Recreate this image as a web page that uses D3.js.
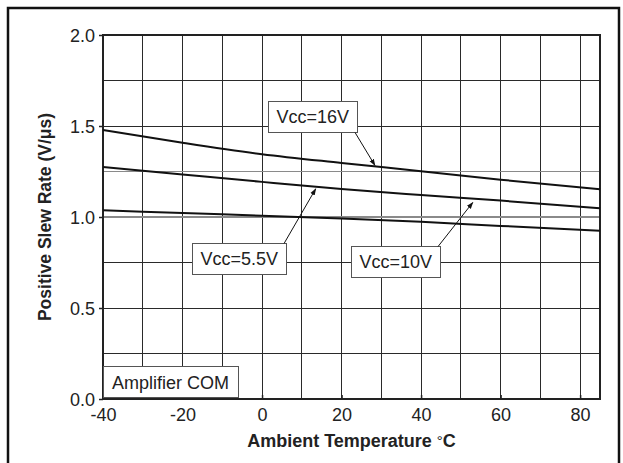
<!DOCTYPE html>
<html>
<head>
<meta charset="utf-8">
<script src="https://cdn.jsdelivr.net/npm/d3@7"></script>
<style>
  html, body { margin: 0; padding: 0; background: #fff; }
  svg text { font-family: "Liberation Sans", Arial, Helvetica, sans-serif; fill: #222; }
</style>
</head>
<body>
<div id="chart"></div>
<script>
// Slew rate vs ambient temperature, one curve per supply voltage
var temps  = [-40, -20, 0, 20, 40, 60, 85];
var vcc16  = [1.478, 1.408, 1.345, 1.297, 1.252, 1.205, 1.152];
var vcc10  = [1.275, 1.234, 1.193, 1.154, 1.121, 1.090, 1.048];
var vcc55  = [1.037, 1.022, 1.007, 0.992, 0.974, 0.951, 0.925];

var xTicks = [-40, -20, 0, 20, 40, 60, 80];
var yTicks = [0, 0.5, 1.0, 1.5, 2.0];
var xGrid  = d3.range(-30, 81, 10);
var yGrid  = [0.25, 0.5, 0.75, 1.0, 1.25, 1.5, 1.75];

// callout labels: text, box top-left corner (data units) and arrow tip (data units)
var callouts = [
  { text: "Vcc=16V",  box: [1.4, 1.637],   from: "bottomRight", tip: [28.4, 1.283] },
  { text: "Vcc=5.5V", box: [-17.7, 0.857], from: "topRight",   tip: [13.5, 1.155] },
  { text: "Vcc=10V",  box: [22.3, 0.841],  from: "topRight",   tip: [53.0, 1.080] }
];

var width = 623, height = 463;
var margin = { left: 103, right: 23, top: 35, bottom: 64 };

var svg = d3.select("#chart").append("svg")
    .attr("width", width)
    .attr("height", height);

// outer frame
svg.append("rect")
    .attr("x", 8).attr("y", 8)
    .attr("width", 611).attr("height", 470)
    .attr("fill", "none")
    .attr("stroke", "#111")
    .attr("stroke-width", 2.5);

var x = d3.scaleLinear().domain([-40, 85]).range([margin.left, width - margin.right]);
var y = d3.scaleLinear().domain([0, 2]).range([height - margin.bottom, margin.top]);

// grid
var grid = svg.append("g").attr("shape-rendering", "crispEdges");
grid.selectAll(".vg").data(xGrid).enter().append("line")
    .attr("x1", d => x(d)).attr("x2", d => x(d))
    .attr("y1", y(0)).attr("y2", y(2))
    .attr("stroke", "#2a2a2a").attr("stroke-width", 1);
grid.selectAll(".hg").data(yGrid).enter().append("line")
    .attr("x1", x(-40)).attr("x2", x(85))
    .attr("y1", d => y(d)).attr("y2", d => y(d))
    .attr("stroke", d => (d === 1.0 || d === 1.25) ? "#8a8a8a" : "#2a2a2a")
    .attr("stroke-width", d => d === 1.0 ? 1.6 : 1);

// plot border
svg.append("rect")
    .attr("x", x(-40)).attr("y", y(2))
    .attr("width", x(85) - x(-40)).attr("height", y(0) - y(2))
    .attr("fill", "none")
    .attr("stroke", "#222")
    .attr("stroke-width", 1.5)
    .attr("shape-rendering", "crispEdges");

// axes
var xAxis = d3.axisBottom(x).tickValues(xTicks).tickSize(-4).tickPadding(9)
    .tickFormat(d => String(d));
var yAxis = d3.axisLeft(y).tickValues(yTicks).tickSize(4).tickPadding(4)
    .tickFormat(d3.format(".1f"));

var gx = svg.append("g").attr("transform", "translate(0," + y(0) + ")").call(xAxis);
var gy = svg.append("g").attr("transform", "translate(" + x(-40) + ",0)").call(yAxis);
[gx, gy].forEach(function (g) {
  g.select(".domain").remove();
  g.selectAll(".tick line").attr("stroke", "#222").attr("stroke-width", 1.5);
  g.selectAll(".tick text").attr("font-size", 18).attr("fill", "#222")
    .style("font-family", "'Liberation Sans', Arial, sans-serif");
});
gy.selectAll(".tick text").attr("dy", "0.36em");

// axis titles
var xTitle = svg.append("text")
    .attr("x", (x(-40) + x(85)) / 2)
    .attr("y", 447)
    .attr("text-anchor", "middle")
    .attr("font-size", 18)
    .attr("font-weight", "bold");
xTitle.append("tspan").text("Ambient Temperature ");
xTitle.append("tspan").attr("font-weight", "normal").attr("font-size", 15).attr("dy", -1).text("\u00B0");
xTitle.append("tspan").attr("dy", 1).text("C");

svg.append("text")
    .attr("transform", "translate(51," + y(1.0) + ") rotate(-90)")
    .attr("text-anchor", "middle")
    .attr("font-size", 17.5)
    .attr("font-weight", "bold")
    .text("Positive Slew Rate (V/\u03BCs)");

// curves
var line = d3.line()
    .x(d => x(d[0]))
    .y(d => y(d[1]))
    .curve(d3.curveMonotoneX);

[vcc16, vcc10, vcc55].forEach(function (series) {
  svg.append("path")
      .datum(temps.map((t, i) => [t, series[i]]))
      .attr("d", line)
      .attr("fill", "none")
      .attr("stroke", "#111")
      .attr("stroke-width", 2);
});

// arrowhead
svg.append("defs").append("marker")
    .attr("id", "arrow")
    .attr("viewBox", "0 0 10 10")
    .attr("refX", 9).attr("refY", 5)
    .attr("markerWidth", 7).attr("markerHeight", 7)
    .attr("orient", "auto")
  .append("path")
    .attr("d", "M0,1.5 L10,5 L0,8.5 Z")
    .attr("fill", "#111");

// boxed text label; returns its box
function boxLabel(txt, px, py, padX, h) {
  var g = svg.append("g");
  var t = g.append("text")
      .attr("x", px + padX).attr("y", py + h / 2)
      .attr("dy", "0.36em")
      .attr("font-size", 18)
      .text(txt);
  var w = t.node().getComputedTextLength() + padX * 2;
  g.insert("rect", "text")
      .attr("x", px).attr("y", py)
      .attr("width", w).attr("height", h)
      .attr("fill", "#fff")
      .attr("stroke", "#555")
      .attr("stroke-width", 1)
      .attr("shape-rendering", "crispEdges");
  return { x: px, y: py, w: w, h: h };
}

callouts.forEach(function (c) {
  var b = boxLabel(c.text, Math.round(x(c.box[0])) + 0.5, Math.round(y(c.box[1])) + 0.5, 8, 31);
  var sx = b.x + b.w - 2;
  var sy = c.from === "topRight" ? b.y : b.y + b.h;
  svg.append("line")
      .attr("x1", sx).attr("y1", sy)
      .attr("x2", x(c.tip[0])).attr("y2", y(c.tip[1]))
      .attr("stroke", "#111")
      .attr("stroke-width", 1)
      .attr("marker-end", "url(#arrow)");
});

boxLabel("Amplifier COM", x(-40), y(0.176), 9, 31);
</script>
</body>
</html>
